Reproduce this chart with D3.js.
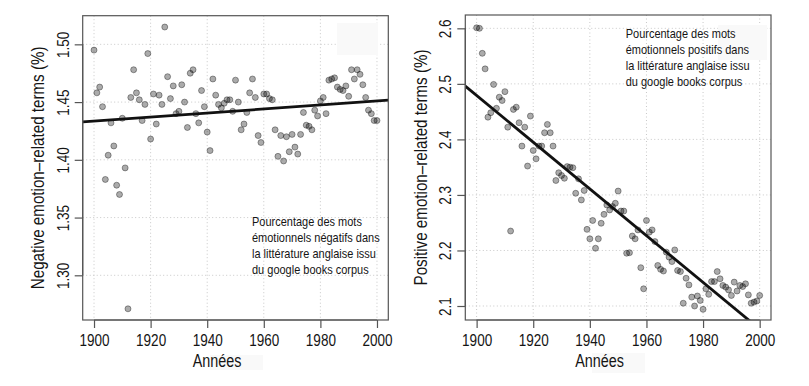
<!DOCTYPE html>
<html>
<head>
<meta charset="utf-8">
<script src="https://cdn.jsdelivr.net/npm/d3@7"></script>
<style>
  html, body { margin: 0; padding: 0; background: #fff; }
  svg { display: block; }
  text { font-family: "Liberation Sans", Arial, sans-serif; fill: #151515; }
</style>
</head>
<body>
<svg id="chart" width="809" height="386"></svg>
<script>
/* Deux panneaux : termes émotionnels négatifs / positifs, 1900–2000 */
const years = d3.range(1900, 2001);

const negValues = [
  1.495, 1.458, 1.463, 1.446, 1.383, 1.404, 1.432, 1.412, 1.378, 1.370,
  1.436, 1.393, 1.271, 1.454, 1.478, 1.458, 1.452, 1.434, 1.448, 1.492,
  1.418, 1.457, 1.431, 1.456, 1.448, 1.515, 1.472, 1.453, 1.464, 1.440,
  1.442, 1.465, 1.450, 1.428, 1.475, 1.478, 1.440, 1.432, 1.460, 1.446,
  1.424, 1.408, 1.470, 1.456, 1.448, 1.445, 1.449, 1.452, 1.452, 1.442,
  1.469, 1.450, 1.426, 1.431, 1.441, 1.458, 1.470, 1.454, 1.421, 1.415,
  1.457, 1.457, 1.453, 1.452, 1.426, 1.403, 1.421, 1.399, 1.420, 1.407,
  1.422, 1.411, 1.405, 1.422, 1.441, 1.430, 1.429, 1.426, 1.443, 1.438,
  1.451, 1.454, 1.440, 1.469, 1.470, 1.471, 1.463, 1.461, 1.460, 1.464,
  1.455, 1.478, 1.470, 1.478, 1.474, 1.465, 1.454, 1.443, 1.440, 1.434,
  1.434
];

const posValues = [
  2.601, 2.600, 2.555, 2.527, 2.440, 2.448, 2.499, 2.456, 2.476, 2.470,
  2.486, 2.422, 2.235, 2.454, 2.458, 2.430, 2.388, 2.422, 2.352, 2.442,
  2.380, 2.365, 2.388, 2.388, 2.412, 2.427, 2.412, 2.388, 2.326, 2.340,
  2.335, 2.330, 2.351, 2.350, 2.349, 2.303, 2.329, 2.291, 2.308, 2.238,
  2.221, 2.254, 2.204, 2.221, 2.249, 2.265, 2.282, 2.273, 2.279, 2.285,
  2.307, 2.271, 2.271, 2.195, 2.196, 2.226, 2.221, 2.237, 2.169, 2.131,
  2.254, 2.233, 2.237, 2.216, 2.173, 2.166, 2.163, 2.197, 2.188, 2.180,
  2.201, 2.164, 2.162, 2.105, 2.150, 2.138, 2.116, 2.100, 2.118, 2.110,
  2.094, 2.131, 2.121, 2.144, 2.144, 2.162, 2.149, 2.137, 2.134, 2.129,
  2.119, 2.143, 2.127, 2.137, 2.135, 2.140, 2.120, 2.105, 2.107, 2.109,
  2.119
];

// droites de régression (valeur en 1900, valeur en 2000)
const fitYears = [1900, 2000];
const negFit = [1.4335, 1.4510];
const posFit = [2.4792, 2.0584];

const xTicks = [1900, 1920, 1940, 1960, 1980, 2000];
const negTicks = [1.30, 1.35, 1.40, 1.45, 1.50];
const posTicks = [2.1, 2.2, 2.3, 2.4, 2.5, 2.6];

const xLabel = 'Années';
const negLabel = 'Negative emotion\u2013related terms (%)';
const posLabel = 'Positive emotion\u2013related terms (%)';
const negNote = ['Pourcentage des mots', 'émotionnels négatifs dans', 'la littérature anglaise issu', 'du google books corpus'];
const posNote = ['Pourcentage des mots', 'émotionnels positifs dans', 'la littérature anglaise issu', 'du google books corpus'];

const NARROW = 'scale(0.82,1)'; // pas de police "Narrow" installée : on compresse
const svg = d3.select('#chart');

function drawPanel(o) {
  const g = svg.append('g');
  const x = d3.scaleLinear().domain([1896, 2004]).range([o.left, o.right]);
  const y = d3.scaleLinear().domain(o.yDomain).range([o.bottom, o.top]);

  // grille pointillée
  g.append('g').selectAll('line').data(xTicks).join('line')
    .attr('x1', d => x(d)).attr('x2', d => x(d))
    .attr('y1', o.top).attr('y2', o.bottom)
    .attr('stroke', '#c8c8c8').attr('stroke-dasharray', '1,2.5');
  g.append('g').selectAll('line').data(o.yTicks).join('line')
    .attr('x1', o.left).attr('x2', o.right)
    .attr('y1', d => y(d)).attr('y2', d => y(d))
    .attr('stroke', '#c8c8c8').attr('stroke-dasharray', '1,2.5');

  // petites retouches blanches visibles sur l'image
  o.patches.forEach(p => {
    g.append('rect').attr('x', p[0]).attr('y', p[1]).attr('width', p[2]).attr('height', p[3])
      .attr('fill', '#f9f9f9');
  });

  // points
  g.append('g').selectAll('circle').data(years).join('circle')
    .attr('cx', d => x(d))
    .attr('cy', (d, i) => y(o.values[i]))
    .attr('r', 3.0)
    .attr('fill', 'rgba(0,0,0,0.33)')
    .attr('stroke', 'rgba(0,0,0,0.45)')
    .attr('stroke-width', 0.8);

  // droite de régression (abline)
  const clipId = 'clip-' + o.id;
  g.append('clipPath').attr('id', clipId).append('rect')
    .attr('x', o.left).attr('y', o.top).attr('width', o.right - o.left).attr('height', o.bottom - o.top);
  const slope = (o.fit[1] - o.fit[0]) / (fitYears[1] - fitYears[0]);
  const fitAt = t => o.fit[0] + slope * (t - fitYears[0]);
  g.append('line')
    .attr('clip-path', `url(#${clipId})`)
    .attr('x1', x(1896)).attr('y1', y(fitAt(1896)))
    .attr('x2', x(2004)).attr('y2', y(fitAt(2004)))
    .attr('stroke', '#111').attr('stroke-width', 2.8);

  // cadre
  g.append('rect')
    .attr('x', o.left).attr('y', o.top).attr('width', o.right - o.left).attr('height', o.bottom - o.top)
    .attr('fill', 'none').attr('stroke', '#555').attr('stroke-width', 1.2);

  // axe x
  const ax = g.append('g').attr('transform', `translate(0,${o.bottom})`)
    .call(d3.axisBottom(x).tickValues(xTicks).tickFormat(d3.format('d')).tickSize(8).tickPadding(6));
  ax.select('.domain').attr('stroke', '#555').attr('stroke-width', 1.2)
    .attr('d', `M${x(1900)},0H${x(2000)}`);
  ax.selectAll('.tick line').attr('stroke', '#555').attr('stroke-width', 1.2);
  ax.selectAll('.tick text').attr('font-size', 16.5).attr('fill', '#151515')
    .attr('transform', NARROW)
    .style('font-family', '"Liberation Sans", Arial, sans-serif');

  // axe y (étiquettes verticales, façon R)
  const ay = g.append('g').attr('transform', `translate(${o.left},0)`)
    .call(d3.axisLeft(y).tickValues(o.yTicks).tickFormat(d3.format(o.yFmt)).tickSize(8));
  ay.select('.domain').attr('stroke', '#555').attr('stroke-width', 1.2)
    .attr('d', `M0,${y(o.yTicks[0])}V${y(o.yTicks[o.yTicks.length - 1])}`);
  ay.selectAll('.tick line').attr('stroke', '#555').attr('stroke-width', 1.2);
  ay.selectAll('.tick text')
    .attr('font-size', 16.5).attr('fill', '#151515')
    .attr('x', 0).attr('dy', 0)
    .attr('text-anchor', 'middle')
    .attr('transform', 'translate(-14,0) rotate(-90) ' + NARROW)
    .style('font-family', '"Liberation Sans", Arial, sans-serif');

  // titres
  g.append('text')
    .attr('transform', `translate(${o.xLabelX},367) ${NARROW}`)
    .attr('text-anchor', 'middle').attr('font-size', 17.5)
    .text(xLabel);
  g.append('text')
    .attr('transform', `translate(${o.yLabelX},${(o.top + o.bottom) / 2}) rotate(-90) ${NARROW}`)
    .attr('text-anchor', 'middle').attr('font-size', 18.5)
    .text(o.yLabel);

  // note
  const note = g.append('text').attr('font-size', 13.4)
    .attr('transform', `translate(${o.noteX},${o.noteY}) ${NARROW}`);
  o.note.forEach((line, i) => {
    note.append('tspan').attr('x', 0).attr('y', i * 16).text(line);
  });
}

drawPanel({
  id: 'neg', left: 82.7, right: 388.3, top: 15.7, bottom: 320,
  yDomain: [1.2613, 1.5248], yTicks: negTicks, yFmt: '.2f',
  values: negValues, fit: negFit,
  yLabel: negLabel, yLabelX: 44, xLabelX: 217,
  note: negNote, noteX: 252, noteY: 226,
  patches: [[337, 23, 41, 32], [210, 355, 53, 15]]
});

drawPanel({
  id: 'pos', left: 465.3, right: 771, top: 15, bottom: 320,
  yDomain: [2.0748, 2.624], yTicks: posTicks, yFmt: '.1f',
  values: posValues, fit: posFit,
  yLabel: posLabel, yLabelX: 427, xLabelX: 599.5,
  note: posNote, noteX: 625.7, noteY: 38,
  patches: [[718, 25, 49, 35], [592, 353, 53, 20]]
});
</script>
</body>
</html>
